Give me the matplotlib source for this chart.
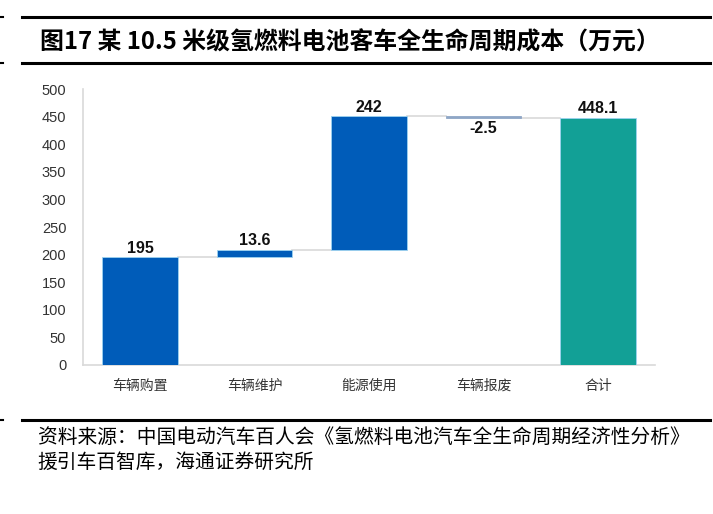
import matplotlib.pyplot as plt
from matplotlib.lines import Line2D

plt.rcParams['font.family'] = ['Noto Sans CJK SC', 'DejaVu Sans']

categories = ['车辆购置', '车辆维护', '能源使用', '车辆报废', '合计']
changes = [195, 13.6, 242, -2.5]
total = 448.1
labels = ['195', '13.6', '242', '-2.5', '448.1']

blue = '#005CB9'
neg_color = '#8FA6C6'
teal = '#12A096'

# waterfall bottoms / heights
bottoms = []
heights = []
level = 0
for c in changes:
    if c >= 0:
        bottoms.append(level)
    else:
        bottoms.append(level + c)
    heights.append(abs(c))
    level += c
bottoms.append(0)
heights.append(total)
colors = [blue if c >= 0 else neg_color for c in changes] + [teal]
edges = ['#9DD3F0' if c >= 0 else neg_color for c in changes] + ['#9DD3F0']

fig = plt.figure(figsize=(7.13, 5.14), dpi=100)
ax = fig.add_axes([0.1164, 0.2899, 0.8026, 0.5369])

x = list(range(len(categories)))
w = 0.66
ax.bar(x, heights, bottom=bottoms, width=w, color=colors,
       edgecolor=edges, linewidth=0.6, zorder=3)

# connector lines
level = 0
for i, c in enumerate(changes):
    level += c
    ax.plot([i + w / 2, i + 1 - w / 2], [level, level], color='#D9D9D9',
            linewidth=1.2, zorder=2)

# value labels
for i in range(len(categories)):
    if i < len(changes) and changes[i] < 0:
        ax.text(i, bottoms[i] - 6, labels[i], ha='center', va='top',
                fontsize=11.5, fontweight='bold', color='#111111',
                family='Liberation Sans')
    else:
        ax.text(i, bottoms[i] + heights[i] + 3, labels[i], ha='center',
                va='bottom', fontsize=11.5, fontweight='bold', color='#111111',
                family='Liberation Sans')

ax.set_xlim(-0.5, len(categories) - 0.5)
ax.set_ylim(0, 500)
ax.set_yticks(range(0, 501, 50))
ax.set_xticks(x)
ax.set_xticklabels(categories, fontsize=10, color='#333333')
ax.tick_params(axis='y', length=0, pad=12, labelsize=10.5, labelcolor='#333333')
for t in ax.get_yticklabels():
    t.set_family('Liberation Sans')
ax.tick_params(axis='x', length=0, pad=10)
for s in ['top', 'right']:
    ax.spines[s].set_visible(False)
for s in ['left', 'bottom']:
    ax.spines[s].set_color('#D9D9D9')
    ax.spines[s].set_linewidth(1.2)

# header / footer rules
for yy in [0.967, 0.877, 0.183]:
    fig.add_artist(Line2D([0.031, 0.996], [yy, yy], color='black',
                          linewidth=2.2, transform=fig.transFigure))
    fig.add_artist(Line2D([0.0, 0.004], [yy, yy], color='black',
                          linewidth=1.5, transform=fig.transFigure))

fig.text(0.056, 0.918, '图17 某 10.5 米级氢燃料电池客车全生命周期成本（万元）',
         fontsize=17.2, fontweight='bold', va='center', ha='left')
fig.text(0.053, 0.15, '资料来源：中国电动汽车百人会《氢燃料电池汽车全生命周期经济性分析》',
         fontsize=14.2, va='center', ha='left')
fig.text(0.053, 0.101, '援引车百智库，海通证券研究所',
         fontsize=14.2, va='center', ha='left')

fig.savefig('out.png', dpi=100)
